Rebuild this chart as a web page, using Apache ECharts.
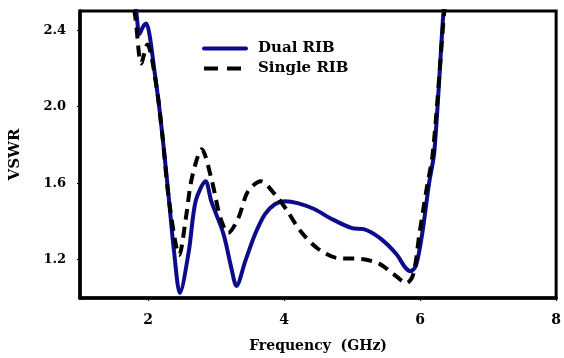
<!DOCTYPE html>
<html><head><meta charset="utf-8">
<script src="https://cdn.jsdelivr.net/npm/echarts@6/dist/echarts.min.js"></script>
<style>html,body{margin:0;padding:0;background:#fff}#c{width:564px;height:358px}</style>
</head><body><div id="c"></div>
<script>
var dualRib = [[1.79,2.6],[1.83,2.49],[1.873,2.38],[1.93,2.42],[1.975,2.435],[2.02,2.38],[2.09,2.2],[2.164,2.0],[2.236,1.767],[2.31,1.506],[2.382,1.245],[2.469,1.026],[2.6,1.245],[2.70,1.506],[2.847,1.61],[2.93,1.506],[3.11,1.334],[3.225,1.157],[3.30,1.063],[3.43,1.193],[3.575,1.334],[3.72,1.438],[3.865,1.49],[4.01,1.506],[4.2,1.496],[4.45,1.464],[4.68,1.417],[5.0,1.365],[5.17,1.36],[5.41,1.313],[5.65,1.23],[5.78,1.16],[5.86,1.14],[5.94,1.17],[6.03,1.334],[6.13,1.595],[6.21,1.767],[6.34,2.48],[6.37,2.6]];
var singleRib = [[1.76,2.6],[1.82,2.45],[1.90,2.226],[1.99,2.325],[2.12,2.116],[2.21,1.855],[2.31,1.506],[2.46,1.225],[2.556,1.417],[2.644,1.626],[2.79,1.777],[2.93,1.626],[3.065,1.417],[3.18,1.34],[3.327,1.417],[3.47,1.558],[3.66,1.61],[3.865,1.542],[4.05,1.454],[4.24,1.35],[4.49,1.26],[4.78,1.209],[5.17,1.203],[5.41,1.177],[5.61,1.125],[5.80,1.078],[5.90,1.125],[5.99,1.334],[6.09,1.558],[6.19,1.767],[6.35,2.48],[6.38,2.6]];
var xTicks = [2,4,6,8];
var yTicks = [1.2,1.6,2.0,2.4];
var seriesNames = ['Dual RIB','Single RIB'];

var font = '"DejaVu Serif", serif';
var chart = echarts.init(document.getElementById('c'), null, {renderer:'canvas'});
chart.setOption({
  animation:false,
  backgroundColor:'#fff',
  grid:{left:80,top:11,width:481,height:287,show:true,borderColor:'#000',borderWidth:3,backgroundColor:'transparent'},
  legend:{
    orient:'vertical',left:197,top:36,itemWidth:42,itemHeight:10,itemGap:5,
    data:[{name:seriesNames[0],itemStyle:{opacity:0},lineStyle:{width:4}},
          {name:seriesNames[1],itemStyle:{opacity:0},lineStyle:{width:4,type:[14,9]}}],
    textStyle:{fontFamily:font,fontWeight:'bold',fontSize:15,color:'#000',padding:[0,0,0,7]}
  },
  xAxis:{
    type:'value',min:1,max:8,
    name:'Frequency  (GHz)',nameLocation:'middle',nameGap:41,
    nameTextStyle:{fontFamily:font,fontWeight:'bold',fontSize:14,color:'#000'},
    axisLine:{show:true,lineStyle:{color:'#000',width:3.5}},
    axisTick:{show:true,length:3,inside:false,lineStyle:{color:'#000',width:1},customValues:xTicks},
    axisLabel:{customValues:xTicks,margin:15,fontFamily:font,fontWeight:'bold',fontSize:14,color:'#000'},
    splitLine:{show:false}
  },
  yAxis:{
    type:'value',min:1.0,max:2.5,
    name:'VSWR',nameLocation:'middle',nameGap:57,nameRotate:90,
    nameTextStyle:{fontFamily:font,fontWeight:'bold',fontSize:15,color:'#000'},
    axisLine:{show:true,lineStyle:{color:'#000',width:3.5}},
    axisTick:{show:true,length:3,lineStyle:{color:'#000',width:1},customValues:yTicks},
    axisLabel:{customValues:yTicks,margin:14,fontFamily:font,fontWeight:'bold',fontSize:13,color:'#000',
      formatter:function(v){return v.toFixed(1);}},
    splitLine:{show:false}
  },
  series:[
    {name:seriesNames[0],type:'line',data:dualRib,smooth:0.3,showSymbol:false,symbol:'none',clip:true,
      lineStyle:{color:'#0b0b8c',width:4,cap:'round',join:'round'},itemStyle:{color:'#0b0b8c'},z:2},
    {name:seriesNames[1],type:'line',data:singleRib,smooth:0.3,showSymbol:false,symbol:'none',clip:true,
      lineStyle:{color:'#000',width:4,type:[11,7]},itemStyle:{color:'#000'},z:3}
  ]
});
</script></body></html>
